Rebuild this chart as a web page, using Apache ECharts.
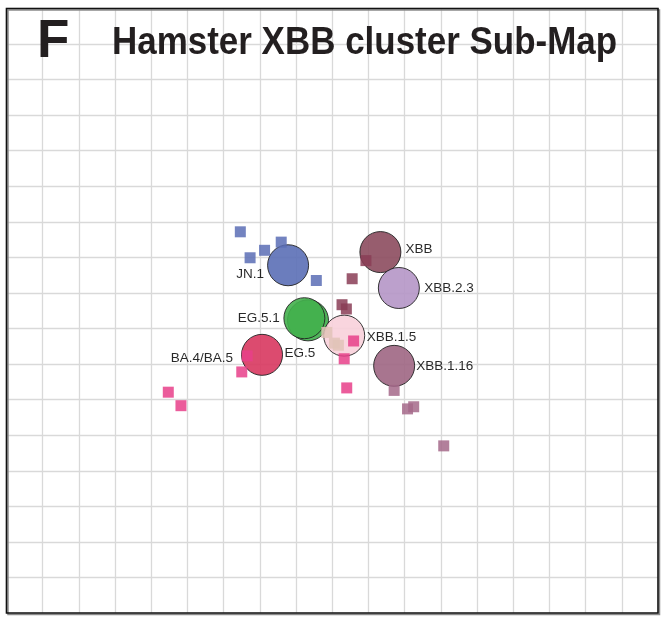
<!DOCTYPE html>
<html>
<head>
<meta charset="utf-8">
<script src="https://cdn.jsdelivr.net/npm/echarts@6/dist/echarts.min.js"></script>
<style>
html,body{margin:0;padding:0;background:#fff;}
#chart{width:669px;height:623px;}
</style>
</head>
<body>
<div id="chart"></div>
<script>
// ---- data ----
const panelLetter = 'F';
const chartTitle = 'Hamster XBB cluster Sub-Map';

const antigenNames = ['BA.4/BA.5', 'JN.1', 'EG.5', 'EG.5.1', 'XBB', 'XBB.2.3', 'XBB.1.5', 'XBB.1.16'];
const antigenX = [7.06, 7.78, 8.33, 8.23, 10.33, 10.84, 9.33, 10.71];
const antigenY = [7.26, 9.78, 8.23, 8.29, 10.15, 9.14, 7.80, 6.95];

const seraX = [6.46, 7.13, 7.59, 6.73, 8.56,
               6.65, 6.50, 4.47, 4.82, 9.59, 9.33, 9.40,
               9.93, 9.55, 9.27, 9.39,
               10.71, 11.08, 11.25, 12.08,
               8.85, 9.06, 9.17];
const seraY = [10.72, 10.20, 10.43, 9.99, 9.35,
               7.23, 6.78, 6.21, 5.83, 7.65, 7.15, 6.33,
               9.91, 9.40, 8.67, 8.55,
               6.26, 5.74, 5.80, 4.70,
               7.89, 7.59, 7.53];
const seraGroup = ['JN.1', 'JN.1', 'JN.1', 'JN.1', 'JN.1',
                   'BA.4/BA.5', 'BA.4/BA.5', 'BA.4/BA.5', 'BA.4/BA.5', 'BA.4/BA.5', 'BA.4/BA.5', 'BA.4/BA.5',
                   'XBB', 'XBB', 'XBB', 'XBB',
                   'XBB.1.16', 'XBB.1.16', 'XBB.1.16', 'XBB.1.16',
                   'XBB.1.5', 'XBB.1.5', 'XBB.1.5'];

// ---- styles / layout ----
const antigenColor = {
  'BA.4/BA.5': '#d8375f',
  'JN.1': '#5b6fb6',
  'EG.5': '#3fae4a',
  'EG.5.1': '#43b04d',
  'XBB': '#8c4b5e',
  'XBB.2.3': '#b596c7',
  'XBB.1.5': '#f8d0da',
  'XBB.1.16': '#9f6683'
};
const seraColor = {
  'JN.1': '#5a6db5',
  'BA.4/BA.5': '#e8408a',
  'XBB': '#8a3d56',
  'XBB.1.16': '#a4698a',
  'XBB.1.5': '#e2c3b8'
};
const labelLayout = {
  'BA.4/BA.5': {align: 'right', offset: [-29, 3]},
  'JN.1': {align: 'right', offset: [-24, 9.5]},
  'EG.5': {align: 'left', offset: [-23.5, 32.5]},
  'EG.5.1': {align: 'right', offset: [-24.5, 0]},
  'XBB': {align: 'left', offset: [25, -3]},
  'XBB.2.3': {align: 'left', offset: [25.5, 0.5]},
  'XBB.1.5': {align: 'left', offset: [22.5, 1.3]},
  'XBB.1.16': {align: 'left', offset: [22, 0.7]}
};
const frame = {left: 6.5, top: 8.5, right: 658, bottom: 613};

const antigenData = antigenNames.map((n, i) => ({
  name: n,
  value: [antigenX[i], antigenY[i]],
  itemStyle: {color: antigenColor[n]},
  label: {align: labelLayout[n].align, offset: labelLayout[n].offset}
}));
const seraData = seraX.map((x, i) => ({
  value: [x, seraY[i]],
  itemStyle: {color: seraColor[seraGroup[i]]}
}));

const chart = echarts.init(document.getElementById('chart'), null, {renderer: 'canvas'});
const axisCommon = {
  type: 'value',
  interval: 1,
  axisLabel: {show: false},
  axisLine: {show: false},
  axisTick: {show: false},
  splitLine: {show: true, lineStyle: {color: '#d9d9d9', width: 1.3}}
};
chart.setOption({
  animation: false,
  backgroundColor: '#fff',
  grid: {
    left: frame.left, right: 669 - frame.right, top: frame.top, bottom: 623 - frame.bottom,
    show: false
  },
  xAxis: Object.assign({min: 0, max: 18}, axisCommon),
  yAxis: Object.assign({min: 0, max: 17}, axisCommon),
  graphic: [
    {type: 'rect', z: 90, silent: true,
     shape: {x: frame.left + 1.5, y: frame.top + 1.5, width: frame.right - frame.left, height: frame.bottom - frame.top},
     style: {fill: null, stroke: '#8a8a8a', lineWidth: 1.5}},
    {type: 'rect', z: 91, silent: true,
     shape: {x: frame.left, y: frame.top, width: frame.right - frame.left, height: frame.bottom - frame.top},
     style: {fill: null, stroke: '#111', lineWidth: 1.6}},
    {type: 'text', x: 37, y: 42, z: 100,
     style: {text: panelLetter, font: 'bold 53px "Liberation Sans", Arial, sans-serif', fill: '#231f20', verticalAlign: 'middle', align: 'left'}},
    {type: 'text', x: 112, y: 44, z: 100, scaleX: 0.92, originX: 0,
     style: {text: chartTitle, font: 'bold 38px "Liberation Sans", Arial, sans-serif', fill: '#231f20', verticalAlign: 'middle', align: 'left'}}
  ],
  series: [
    {
      type: 'scatter',
      z: 3,
      symbol: 'circle',
      symbolSize: 41,
      data: antigenData,
      itemStyle: {opacity: 0.9, borderColor: '#222', borderWidth: 1},
      label: {
        show: true,
        position: 'inside',
        formatter: p => p.name,
        color: '#111',
        fontSize: 13.5,
        fontFamily: '"Liberation Sans", Arial, sans-serif',
        verticalAlign: 'middle'
      },
      emphasis: {disabled: true}
    },
    {
      type: 'scatter',
      z: 4,
      symbol: 'rect',
      symbolSize: 11,
      data: seraData,
      itemStyle: {opacity: 0.85},
      emphasis: {disabled: true}
    }
  ]
});
</script>
</body>
</html>
